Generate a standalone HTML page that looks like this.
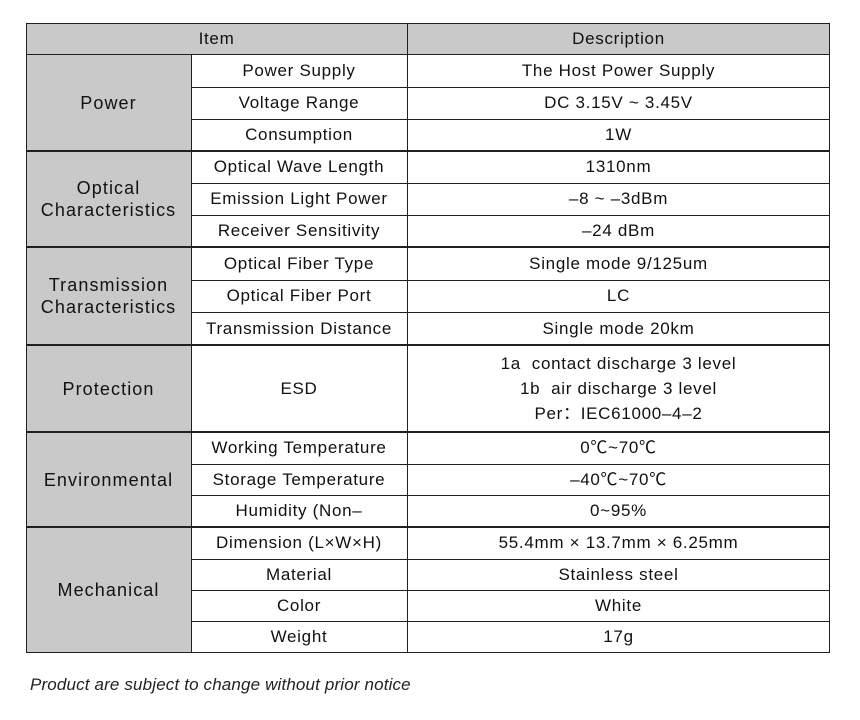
<!DOCTYPE html>
<html><head><meta charset="utf-8"><style>
body{margin:0;width:860px;height:720px;background:#fff;position:relative;font-family:"Liberation Sans","Noto Sans CJK SC",sans-serif;color:#111;overflow:hidden}
.c{position:absolute;display:flex;align-items:center;justify-content:center;text-align:center;font-size:17px;letter-spacing:0.7px;line-height:22px;box-sizing:border-box}
.g{background:#c8c9c8}
.l{font-size:18px;letter-spacing:1.1px}
.h{position:absolute;left:26px;width:804px;height:1px;background:#231f20}
.hb{height:2px}
.v{position:absolute;width:1px;background:#231f20}
.f{position:absolute;left:30px;top:675px;font-style:italic;font-size:17px;color:#222;letter-spacing:0.15px}
</style></head><body>
<div class="c g" style="left:26px;top:23px;width:381px;height:31px">Item</div>
<div class="c g" style="left:407px;top:23px;width:423px;height:31px">Description</div>
<div class="c g l" style="left:26px;top:54px;width:165px;height:97px">Power</div>
<div class="c g l" style="left:26px;top:151px;width:165px;height:96px">Optical<br>Characteristics</div>
<div class="c g l" style="left:26px;top:247px;width:165px;height:98px">Transmission<br>Characteristics</div>
<div class="c g l" style="left:26px;top:345px;width:165px;height:87px">Protection</div>
<div class="c g l" style="left:26px;top:432px;width:165px;height:95px">Environmental</div>
<div class="c g l" style="left:26px;top:527px;width:165px;height:125px">Mechanical</div>

<div class="c" style="left:191px;top:54px;width:216px;height:33px">Power Supply</div>
<div class="c" style="left:407px;top:54px;width:423px;height:33px">The Host Power Supply</div>
<div class="c" style="left:191px;top:87px;width:216px;height:32px">Voltage Range</div>
<div class="c" style="left:407px;top:87px;width:423px;height:32px">DC 3.15V ~ 3.45V</div>
<div class="c" style="left:191px;top:119px;width:216px;height:32px">Consumption</div>
<div class="c" style="left:407px;top:119px;width:423px;height:32px">1W</div>
<div class="c" style="left:191px;top:151px;width:216px;height:32px">Optical Wave Length</div>
<div class="c" style="left:407px;top:151px;width:423px;height:32px">1310nm</div>
<div class="c" style="left:191px;top:183px;width:216px;height:32px">Emission Light Power</div>
<div class="c" style="left:407px;top:183px;width:423px;height:32px">–8 ~ –3dBm</div>
<div class="c" style="left:191px;top:215px;width:216px;height:32px">Receiver Sensitivity</div>
<div class="c" style="left:407px;top:215px;width:423px;height:32px">–24 dBm</div>
<div class="c" style="left:191px;top:247px;width:216px;height:33px">Optical Fiber Type</div>
<div class="c" style="left:407px;top:247px;width:423px;height:33px">Single mode 9/125um</div>
<div class="c" style="left:191px;top:280px;width:216px;height:32px">Optical Fiber Port</div>
<div class="c" style="left:407px;top:280px;width:423px;height:32px">LC</div>
<div class="c" style="left:191px;top:312px;width:216px;height:33px">Transmission Distance</div>
<div class="c" style="left:407px;top:312px;width:423px;height:33px">Single mode 20km</div>
<div class="c" style="left:191px;top:345px;width:216px;height:87px">ESD</div>
<div class="c" style="left:407px;top:345px;width:423px;height:87px;line-height:25px">1a&nbsp; contact discharge 3 level<br>1b&nbsp; air discharge 3 level<br>Per：IEC61000–4–2</div>
<div class="c" style="left:191px;top:432px;width:216px;height:32px">Working Temperature</div>
<div class="c" style="left:407px;top:432px;width:423px;height:32px">0℃~70℃</div>
<div class="c" style="left:191px;top:464px;width:216px;height:31px">Storage Temperature</div>
<div class="c" style="left:407px;top:464px;width:423px;height:31px">–40℃~70℃</div>
<div class="c" style="left:191px;top:495px;width:216px;height:32px">Humidity (Non–</div>
<div class="c" style="left:407px;top:495px;width:423px;height:32px">0~95%</div>
<div class="c" style="left:191px;top:527px;width:216px;height:32px">Dimension (L×W×H)</div>
<div class="c" style="left:407px;top:527px;width:423px;height:32px">55.4mm × 13.7mm × 6.25mm</div>
<div class="c" style="left:191px;top:559px;width:216px;height:31px">Material</div>
<div class="c" style="left:407px;top:559px;width:423px;height:31px">Stainless steel</div>
<div class="c" style="left:191px;top:590px;width:216px;height:31px">Color</div>
<div class="c" style="left:407px;top:590px;width:423px;height:31px">White</div>
<div class="c" style="left:191px;top:621px;width:216px;height:31px">Weight</div>
<div class="c" style="left:407px;top:621px;width:423px;height:31px">17g</div>

<div class="h" style="top:23px"></div>
<div class="h" style="top:54px"></div>
<div class="h" style="top:87px;left:191px;width:639px"></div>
<div class="h" style="top:119px;left:191px;width:639px"></div>
<div class="h hb" style="top:150px"></div>
<div class="h" style="top:183px;left:191px;width:639px"></div>
<div class="h" style="top:215px;left:191px;width:639px"></div>
<div class="h hb" style="top:246px"></div>
<div class="h" style="top:280px;left:191px;width:639px"></div>
<div class="h" style="top:312px;left:191px;width:639px"></div>
<div class="h hb" style="top:344px"></div>
<div class="h hb" style="top:431px"></div>
<div class="h" style="top:464px;left:191px;width:639px"></div>
<div class="h" style="top:495px;left:191px;width:639px"></div>
<div class="h hb" style="top:526px"></div>
<div class="h" style="top:559px;left:191px;width:639px"></div>
<div class="h" style="top:590px;left:191px;width:639px"></div>
<div class="h" style="top:621px;left:191px;width:639px"></div>
<div class="h" style="top:652px"></div>

<div class="v" style="left:26px;top:23px;height:630px"></div>
<div class="v" style="left:191px;top:54px;height:598px"></div>
<div class="v" style="left:407px;top:23px;height:630px"></div>
<div class="v" style="left:829px;top:23px;height:630px"></div>

<div class="f">Product are subject to change without prior notice</div>
</body></html>
